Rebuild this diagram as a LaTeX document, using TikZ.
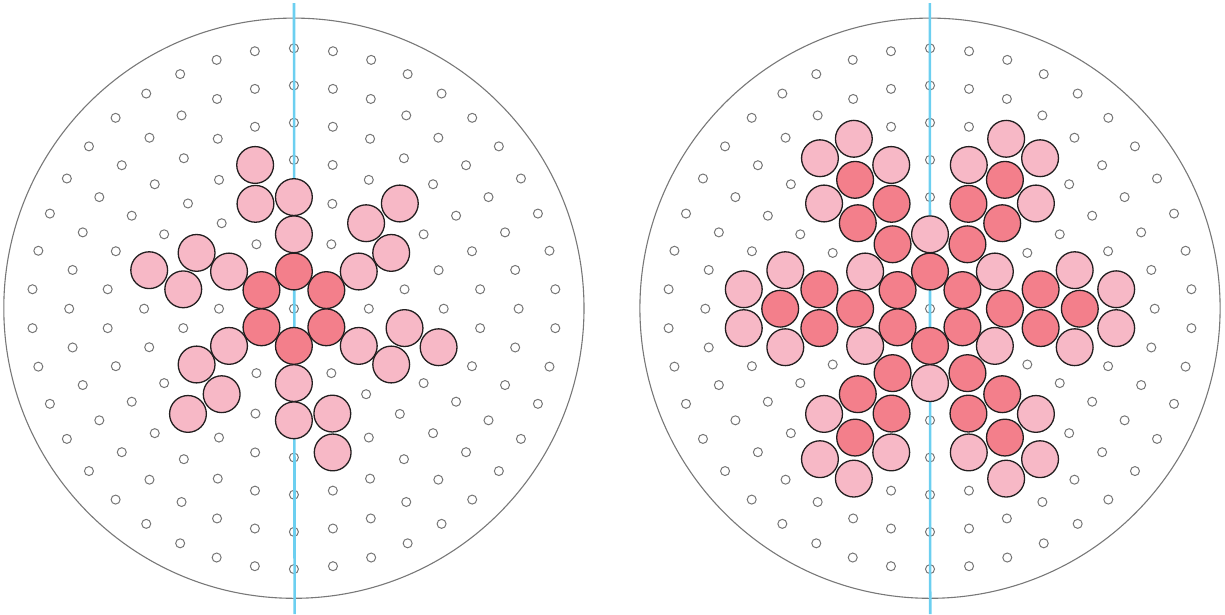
\documentclass[tikz,border=0pt]{standalone}
\definecolor{ringgray}{HTML}{767676}
\definecolor{edgegray}{HTML}{787878}
\definecolor{pinkdark}{HTML}{F37F8B}
\definecolor{pinklight}{HTML}{F7B8C6}
\definecolor{axiscyan}{HTML}{6CCFF0}
\definecolor{fiberline}{HTML}{231F20}
\tikzset{
  dot/.style={draw=ringgray, line width=1pt},
  boundary/.style={draw=edgegray, line width=1.1pt},
  axisline/.style={draw=axiscyan, line width=2.6pt},
  fiberdark/.style={draw=fiberline, fill=pinkdark, line width=1.3pt},
  fiberlight/.style={draw=fiberline, fill=pinklight, line width=1.3pt}
}
\newcommand\fiberat[4]{\draw[#4] ({#1+#2*37.45*cos(#3)},{308.7-#2*37.2*sin(#3)}) circle[radius=18.4pt];}
\begin{document}
\begin{tikzpicture}[x=1pt,y=-1pt]
\useasboundingbox (0,0) rectangle (1225,614);
% outer circles and small ring points
\foreach \cx in {293.9,930} {
  \draw[boundary] (\cx,308.2) circle[radius=290.1pt];
  \draw[dot] (\cx,308.7) circle[radius=4.5pt];
  \foreach \k in {1,...,7} {
    \pgfmathtruncatemacro\n{6*\k}
    \foreach \j in {1,...,\n} {
      \draw[dot] ({\cx+\k*37.45*cos(90+360*\j/\n)},{308.7-\k*37.2*sin(90+360*\j/\n)}) circle[radius=4.5pt];
    }
  }
}
% axis lines
\coordinate (ltop) at (294.0,3);
\coordinate (lbot) at (294.6,614);
\coordinate (rtop) at (929.8,3);
\coordinate (rbot) at (930.2,614);
\draw[axisline] (ltop) -- (lbot);
\draw[axisline] (rtop) -- (rbot);
% left pattern
\foreach \b in {30,90,150,210,270,330} {
  \fiberat{293.9}{1}{\b}{fiberdark}
  \fiberat{293.9}{2}{\b}{fiberlight}
  \fiberat{293.9}{3}{\b}{fiberlight}
  \fiberat{293.9}{3}{\b+20}{fiberlight}
  \fiberat{293.9}{4}{\b+15}{fiberlight}
}
% right pattern
\foreach \b in {0,60,120,180,240,300} {
  \fiberat{930}{1}{\b+30}{fiberdark}
  \fiberat{930}{2}{\b}{fiberdark}
  \fiberat{930}{2}{\b+30}{fiberlight}
  \fiberat{930}{3}{\b-10}{fiberdark}
  \fiberat{930}{3}{\b+10}{fiberdark}
  \fiberat{930}{4}{\b}{fiberdark}
  \fiberat{930}{4}{\b-15}{fiberlight}
  \fiberat{930}{4}{\b+15}{fiberlight}
  \fiberat{930}{5}{\b-6}{fiberlight}
  \fiberat{930}{5}{\b+6}{fiberlight}
}
\end{tikzpicture}
\end{document}
